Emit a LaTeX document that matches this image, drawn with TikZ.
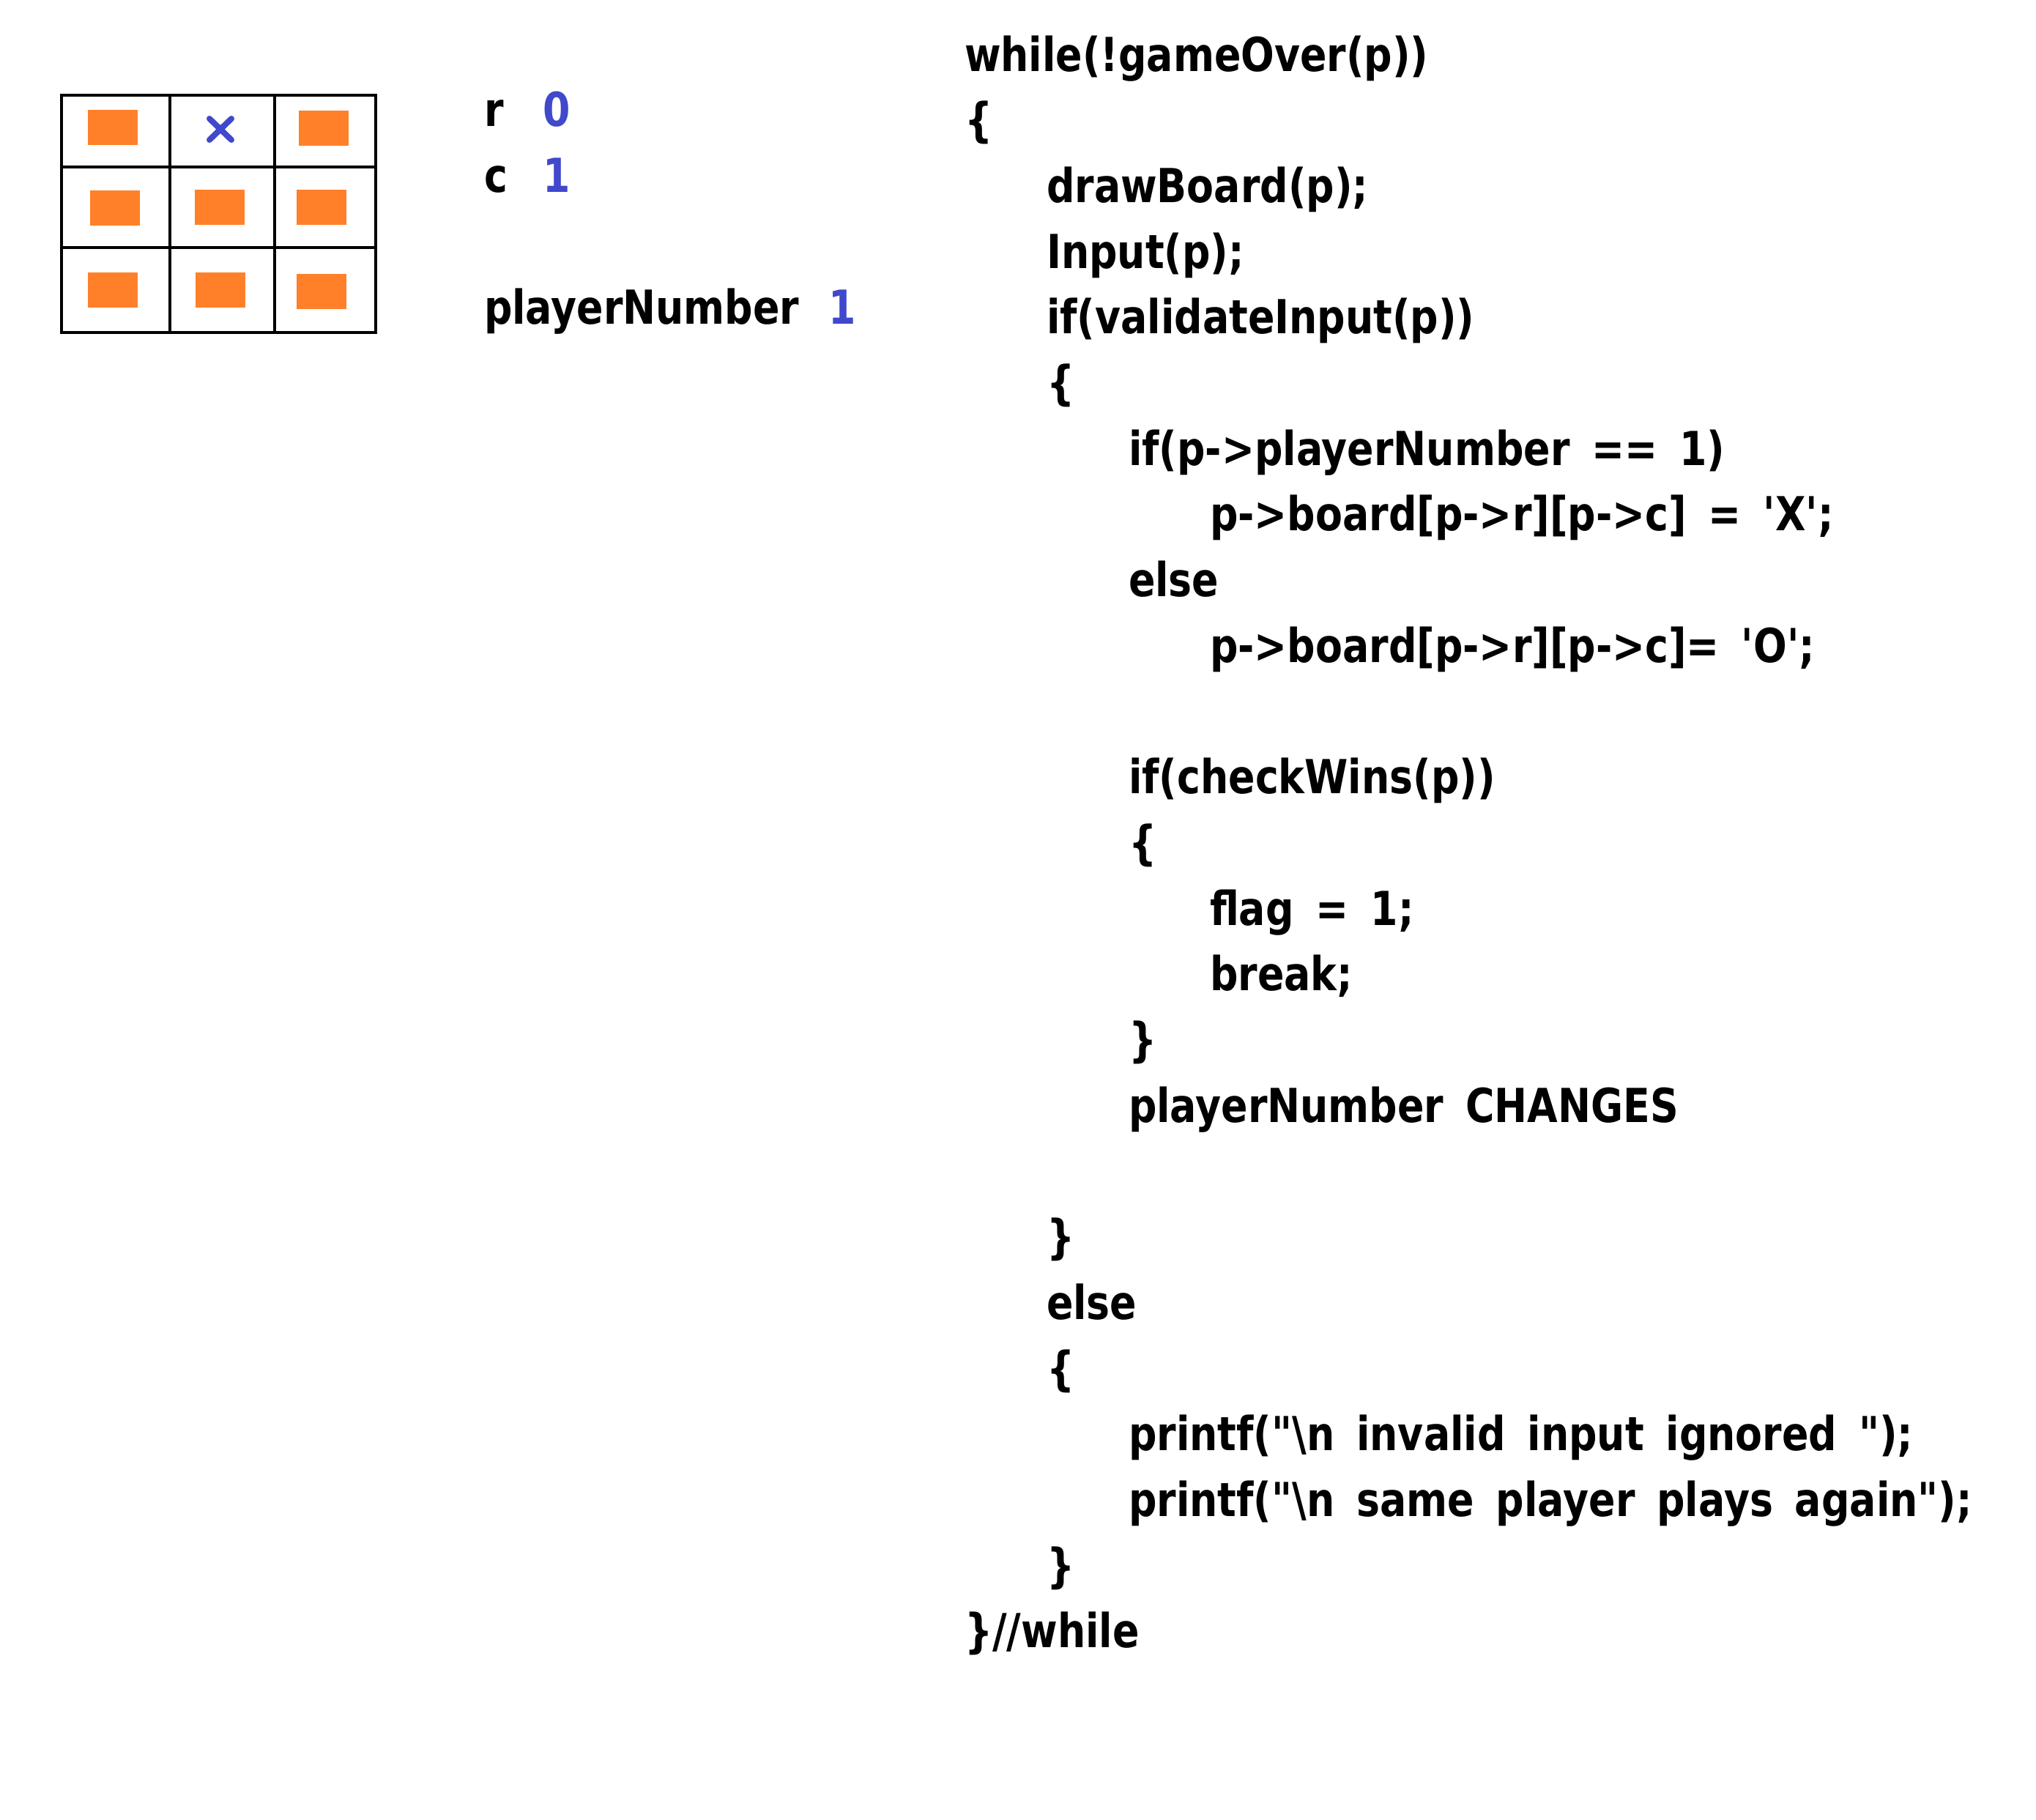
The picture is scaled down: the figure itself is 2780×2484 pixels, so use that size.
\documentclass[tikz,border=0pt]{standalone}
\usepackage{fontspec}
\newfontfamily\codefont{DejaVu Sans}[BoldFont={DejaVu Sans Bold},FakeStretch=0.84,WordSpace=1.6]
\definecolor{boardorange}{RGB}{255,128,40}
\definecolor{valblue}{RGB}{64,72,204}
\begin{document}
\begin{tikzpicture}[x=0.25pt,y=-0.25pt,
  txt/.style={anchor=base west,inner sep=0pt,outer sep=0pt,font=\codefont\bfseries\fontsize{16}{19}\selectfont},
  val/.style={txt,text=valblue},
  cell/.style={fill=boardorange,draw=none},
  gridline/.style={line width=1.2pt,black}]
\useasboundingbox (0,0) rectangle (2780,2484);
% board
\draw[gridline] (84,130) rectangle (513,454);
\draw[gridline] (232,130) -- (232,454);
\draw[gridline] (375,130) -- (375,454);
\draw[gridline] (84,228) -- (513,228);
\draw[gridline] (84,338) -- (513,338);
\fill[cell] (120,150) rectangle (188,198);
\fill[cell] (408,151) rectangle (476,199);
\fill[cell] (123,260) rectangle (191,308);
\fill[cell] (266,259) rectangle (334,307);
\fill[cell] (405,259) rectangle (473,307);
\fill[cell] (120,372) rectangle (188,420);
\fill[cell] (267,372) rectangle (335,420);
\fill[cell] (405,374) rectangle (473,422);
\draw[valblue,line width=2pt,line cap=round] (286,162) -- (316,191) (316,162) -- (286,191);
% variables
\node[txt] (rlab) at (661,172) {r};
\node[val] (rval) at (741,172) {0};
\node[txt] (clab) at (661,262) {c};
\node[val] (cval) at (741,262) {1};
\node[txt] (plab) at (661,442) {playerNumber};
\node[val] (pval) at (1131,442) {1};
% code
\node[txt] (l1) at (1317,97) {while(!gameOver(p))};
\node[txt] (l2) at (1317,186.7) {\{};
\node[txt] (l3) at (1429,276.4) {drawBoard(p);};
\node[txt] (l4) at (1429,366.1) {Input(p);};
\node[txt] (l5) at (1429,455.8) {if(validateInput(p))};
\node[txt] (l6) at (1429,545.5) {\{};
\node[txt] (l7) at (1541,635.2) {if(p->playerNumber == 1)};
\node[txt] (l8) at (1652,724.9) {p->board[p->r][p->c] = 'X';};
\node[txt] (l9) at (1541,814.6) {else};
\node[txt] (l10) at (1652,904.3) {p->board[p->r][p->c]= 'O';};
\node[txt] (l12) at (1541,1083.7) {if(checkWins(p))};
\node[txt] (l13) at (1541,1173.4) {\{};
\node[txt] (l14) at (1652,1263.1) {flag = 1;};
\node[txt] (l15) at (1652,1352.8) {break;};
\node[txt] (l16) at (1541,1442.5) {\}};
\node[txt] (l17) at (1541,1532.2) {playerNumber CHANGES};
\node[txt] (l19) at (1429,1711.6) {\}};
\node[txt] (l20) at (1429,1801.3) {else};
\node[txt] (l21) at (1429,1891) {\{};
\node[txt] (l22) at (1541,1980.7) {printf("\textbackslash n invalid input ignored ");};
\node[txt] (l23) at (1541,2070.4) {printf("\textbackslash n same player plays again");};
\node[txt] (l24) at (1429,2160.1) {\}};
\node[txt] (l25) at (1317,2249.8) {\}//while};
\end{tikzpicture}
\end{document}
